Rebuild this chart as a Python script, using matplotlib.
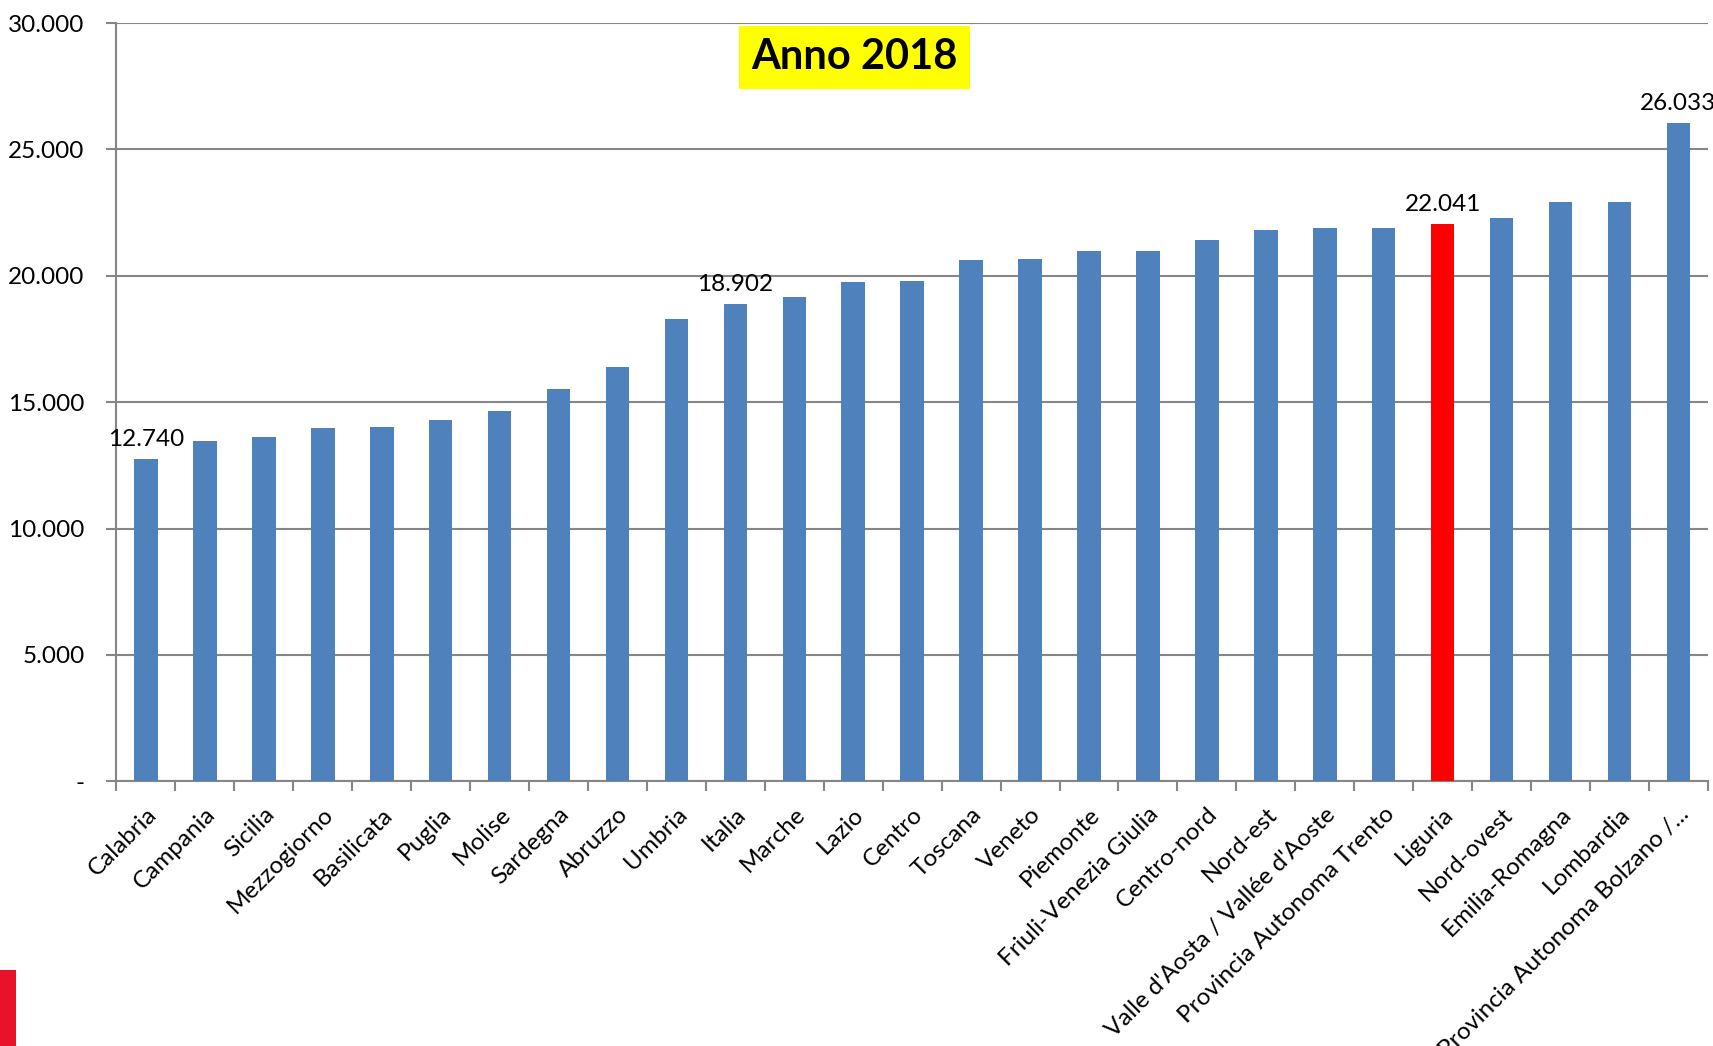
import matplotlib.pyplot as plt
from matplotlib.patches import Rectangle
from matplotlib.ticker import FuncFormatter, FixedLocator

plt.rcParams['font.family'] = ['Lato', 'DejaVu Sans']

# Data
regioni = ['Calabria', 'Campania', 'Sicilia', 'Mezzogiorno', 'Basilicata', 'Puglia',
           'Molise', 'Sardegna', 'Abruzzo', 'Umbria', 'Italia', 'Marche', 'Lazio',
           'Centro', 'Toscana', 'Veneto', 'Piemonte', 'Friuli-Venezia Giulia',
           'Centro-nord', 'Nord-est', "Valle d'Aosta / Vallée d'Aoste",
           'Provincia Autonoma Trento', 'Liguria', 'Nord-ovest', 'Emilia-Romagna',
           'Lombardia', 'Provincia Autonoma Bolzano /...']
valori = [12740, 13450, 13620, 13960, 14010, 14310, 14660, 15520, 16390, 18290,
          18902, 19150, 19760, 19800, 20620, 20670, 20970, 20970, 21400, 21830,
          21880, 21880, 22041, 22270, 22910, 22910, 26033]
etichette = {'Calabria': '12.740', 'Italia': '18.902', 'Liguria': '22.041',
             'Provincia Autonoma Bolzano /...': '26.033'}
evidenziata = 'Liguria'

colori = ['#FF0000' if r == evidenziata else '#4F81BD' for r in regioni]

fig, ax = plt.subplots(figsize=(17.13, 10.46), dpi=100)
fig.subplots_adjust(left=0.068, right=0.997, top=0.978, bottom=0.253)

x = range(len(regioni))
ax.bar(x, valori, width=0.4, color=colori, zorder=3)

for i, (r, v) in enumerate(zip(regioni, valori)):
    if r in etichette:
        ax.text(i, v + 350, etichette[r], ha='center', va='bottom', fontsize=17.5)

ax.set_xlim(-0.5, len(regioni) - 0.5)
ax.set_ylim(0, 30000)
ax.set_yticks(range(0, 30001, 5000))
ax.yaxis.set_major_formatter(FuncFormatter(
    lambda v, p: '-' if v == 0 else f'{int(v):,}'.replace(',', '.')))
ax.grid(axis='y', color='#868686', linewidth=1.5, zorder=0)

# category labels between separator ticks
ax.set_xticks(list(x))
ax.set_xticklabels(regioni, rotation=45, ha='right', rotation_mode='anchor', fontsize=17.5)
ax.tick_params(axis='x', length=0, pad=16)
ax.xaxis.set_minor_locator(FixedLocator([i - 0.5 for i in range(len(regioni) + 1)]))
ax.tick_params(axis='x', which='minor', length=7, width=1.5, color='#868686')
ax.tick_params(axis='y', labelsize=17.5, length=7, width=1.5, color='#868686', pad=16)

for side in ['top', 'right']:
    ax.spines[side].set_visible(False)
for side in ['left', 'bottom']:
    ax.spines[side].set_color('#868686')
    ax.spines[side].set_linewidth(1.5)

ax.text(0.4636, 0.955, 'Anno 2018', transform=ax.transAxes, ha='center', va='center',
        fontsize=30, fontweight='bold', zorder=5,
        bbox=dict(boxstyle='square,pad=0.3', facecolor='#FFFF00', edgecolor='none'))

# cropped logo fragment at bottom-left
fig.patches.append(Rectangle((0, 0), 0.0095, 0.073, transform=fig.transFigure,
                             facecolor='#E8132B', edgecolor='none'))

plt.savefig('out.png', dpi=100)
